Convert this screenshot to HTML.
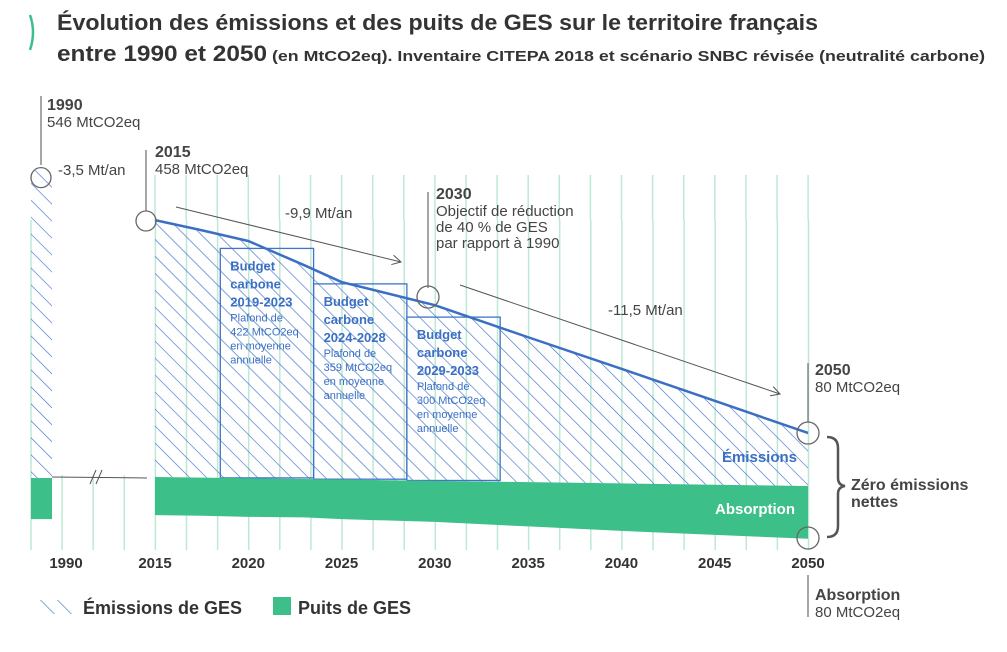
<!DOCTYPE html>
<html><head><meta charset="utf-8"><style>
html,body{margin:0;padding:0;background:#fff;}
svg{display:block;font-family:"Liberation Sans",sans-serif;}
</style></head><body>
<svg id="chart" width="1007" height="652" viewBox="0 0 1007 652">
<defs>
<pattern id="hatch" patternUnits="userSpaceOnUse" width="12" height="12" patternTransform="rotate(-45)">
<line x1="0" y1="0" x2="0" y2="12" stroke="#3f74c8" stroke-width="1.3"/>
</pattern>
</defs>
<path d="M30 15 Q36 32 30 50" fill="none" stroke="#3dbf8a" stroke-width="2.5"/>
<text x="57" y="30" font-size="22" font-weight="bold" fill="#333" textLength="761" lengthAdjust="spacingAndGlyphs">Évolution des émissions et des puits de GES sur le territoire français</text>
<text x="57" y="61" font-weight="bold" fill="#333"><tspan font-size="22" textLength="210" lengthAdjust="spacingAndGlyphs">entre 1990 et 2050</tspan><tspan font-size="14.5" dx="5" textLength="713" lengthAdjust="spacingAndGlyphs">(en MtCO2eq). Inventaire CITEPA 2018 et scénario SNBC révisée (neutralité carbone)</tspan></text>
<g id="grid"></g>
<g id="marks"></g>
<g id="annot"></g>
<g id="axis"></g>
<g>
<g>
<rect x="40" y="600" width="33" height="14" fill="url(#hatch)"/>
<text x="83" y="614" font-size="18" font-weight="bold" fill="#333">Émissions de GES</text>
</g>
<g>
<rect x="273" y="597" width="18" height="18" fill="#3dbf8a"/>
<text x="298" y="614" font-size="18" font-weight="bold" fill="#333">Puits de GES</text>
</g>
</g>
</svg>
<script>
const years = [2015, 2017.5, 2020, 2023, 2025, 2030, 2035, 2040, 2045, 2050];
const emissions = [458, 440, 421, 378, 348, 307, 250, 194, 137, 80];
const absorption = [66, 67, 69, 70, 73, 78, 86, 94, 101, 108];
const emission1990 = 546;
const absorption1990 = 73;
const tickYears = [2015, 2020, 2025, 2030, 2035, 2040, 2045, 2050];
const budgetStart = [2018.5, 2023.5, 2028.5];
const budgetEnd = [2023.5, 2028.5, 2033.5];
const budgetValues = [422, 359, 300];
const budgetLabels = ["2019-2023", "2024-2028", "2029-2033"];

const NS = "http://www.w3.org/2000/svg";
const x = yr => 155 + (yr - 2015) * (808 - 155) / 35;
const y = v => 478 - v * 0.563;
const base = yr => 477 + (yr - 2015) * 9 / 35;
function mk(tag, attrs, parent, txt) {
  const e = document.createElementNS(NS, tag);
  for (const k in attrs) e.setAttribute(k, attrs[k]);
  if (txt !== undefined) e.textContent = txt;
  parent.appendChild(e);
  return e;
}
const grid = document.getElementById('grid');
const marks = document.getElementById('marks');
const annot = document.getElementById('annot');
const axis = document.getElementById('axis');

for (let gx = 31; gx <= 810; gx += 31.1) {
  const l = mk('line', {x1: gx, x2: gx, y1: 175, y2: 550, stroke: '#bfe8d4', 'stroke-width': 1.5}, grid);
  
  
}
const wipe = mk('rect', {x: 0, y: 100, width: 1007, height: 120, fill: '#fff'}, grid);


mk('rect', {x: 53, y: 175, width: 99, height: 300, fill: '#fff'}, grid);
for (let gx = 155; gx <= 810; gx += 31.1) {
  mk('line', {x1: gx, x2: gx, y1: 175, y2: 220, stroke: '#bfe8d4', 'stroke-width': 1.5}, grid);
}

const c90 = mk('rect', {x: 31, y: y(emission1990), width: 21, height: 478 - y(emission1990), fill: 'url(#hatch)'}, marks);


const a90 = mk('rect', {x: 31, y: 478, width: 21, height: absorption1990 * 0.563, fill: '#3dbf8a'}, marks);



let d = `M${x(years[0])} ${base(years[0])}`;
years.forEach((yr, i) => d += ` L${x(yr)} ${y(emissions[i])}`);
d += ` L${x(2050)} ${base(2050)} Z`;
const ea = mk('path', {d: d, fill: 'url(#hatch)'}, marks);



budgetValues.forEach((v, i) => {
  const bx = x(budgetStart[i]), bw = x(budgetEnd[i]) - x(budgetStart[i]);
  const r = mk('rect', {x: bx, y: y(v) + 8, width: bw, height: base(budgetStart[i]) - y(v) - 8, fill: 'none', stroke: '#3f74c8', 'stroke-width': 1.3}, marks);
  
  
  const t = mk('text', {x: bx + 10, y: y(v) + 30, fill: '#3a6fc4', 'font-size': 12.5, 'font-weight': 'bold'}, marks);
  
  
  const lines = [['Budget', 1], ['carbone', 1], [budgetLabels[i], 1], ['Plafond de', 0], [v + ' MtCO2eq', 0], ['en moyenne', 0], ['annuelle', 0]];
  lines.forEach((ln, j) => {
    mk('tspan', {x: bx + 10, dy: j === 0 ? 0 : (j < 3 ? 18 : (j === 3 ? 15 : 14)), 'font-size': ln[1] ? 13 : 11, 'font-weight': ln[1] ? 'bold' : 'normal'}, t, ln[0]);
  });
});

let ld = '';
years.forEach((yr, i) => ld += (i ? ' L' : 'M') + x(yr) + ' ' + y(emissions[i]));
const el = mk('path', {d: ld, fill: 'none', stroke: '#3a6fc4', 'stroke-width': 2.5, 'stroke-linejoin': 'round'}, marks);



let ad = `M${x(years[0])} ${base(years[0])}`;
years.forEach(yr => ad += ` L${x(yr)} ${base(yr)}`);
for (let i = years.length - 1; i >= 0; i--) ad += ` L${x(years[i])} ${478 + absorption[i] * 0.563}`;
ad += ' Z';
const ab = mk('path', {d: ad, fill: '#3dbf8a'}, marks);



mk('line', {x1: 52, y1: 477, x2: 147, y2: 478, stroke: '#555', 'stroke-width': 1}, annot);
mk('line', {x1: 90, y1: 484, x2: 96, y2: 470, stroke: '#555', 'stroke-width': 1}, annot);
mk('line', {x1: 96, y1: 484, x2: 102, y2: 470, stroke: '#555', 'stroke-width': 1}, annot);

function marker(cx, cy, r) {
  const c = mk('circle', {cx: cx, cy: cy, r: r, fill: 'none', stroke: '#666', 'stroke-width': 1.3}, annot);
  
  
}
function stem(sx, y1, y2) { mk('line', {x1: sx, x2: sx, y1: y1, y2: y2, stroke: '#777', 'stroke-width': 1.3}, annot); }
function label(tx, ty, lines, name) {
  const t = mk('text', {x: tx, y: ty, fill: '#444'}, annot);
  
  
  lines.forEach((ln, j) => mk('tspan', {x: tx, dy: j ? (ln[2] || 17) : 0, 'font-size': ln[1] ? 16 : 15, 'font-weight': ln[1] ? 'bold' : 'normal'}, t, ln[0]));
}
stem(41, 96, 165); marker(41, y(emission1990) + 7, 10);
label(47, 110, [['1990', 1], ['546 MtCO2eq', 0]], 'label-1990');
label(58, 175, [['-3,5 Mt/an', 0]], 'rate-1990');
stem(146, 150, 211); marker(146, 221, 10);
label(155, 157, [['2015', 1], ['458 MtCO2eq', 0]], 'label-2015');
stem(428, 192, 288); marker(428, 297, 11);
label(436, 199, [['2030', 1], ['Objectif de réduction', 0], ['de 40 % de GES', 0, 16], ['par rapport à 1990', 0, 16]], 'label-2030');
stem(808, 363, 422); marker(808, 433, 11);
label(815, 375, [['2050', 1], ['80 MtCO2eq', 0]], 'label-2050');
marker(808, 538, 11);
stem(808, 575, 617);
label(815, 600, [['Absorption', 1], ['80 MtCO2eq', 0]], 'label-absorption-2050');
label(285, 218, [['-9,9 Mt/an', 0]], 'rate-2015-2030');
label(608, 315, [['-11,5 Mt/an', 0]], 'rate-2030-2050');
function arrow(x1, y1, x2, y2) {
  mk('line', {x1: x1, y1: y1, x2: x2, y2: y2, stroke: '#555', 'stroke-width': 1}, annot);
  const a = Math.atan2(y2 - y1, x2 - x1);
  mk('path', {d: `M${x2 - 10 * Math.cos(a - 0.5)} ${y2 - 10 * Math.sin(a - 0.5)} L${x2} ${y2} L${x2 - 10 * Math.cos(a + 0.5)} ${y2 - 10 * Math.sin(a + 0.5)}`, fill: 'none', stroke: '#555', 'stroke-width': 1}, annot);
}
arrow(176, 207, 401, 262);
arrow(460, 285, 780, 394);
const te = mk('text', {x: 797, y: 462, 'font-size': 15, 'font-weight': 'bold', fill: '#3a6fc4', 'text-anchor': 'end'}, annot, 'Émissions');


const ta = mk('text', {x: 795, y: 514, 'font-size': 15, 'font-weight': 'bold', fill: '#fff', 'text-anchor': 'end'}, annot, 'Absorption');


mk('path', {d: 'M827 437 Q838 437 838 448 L838 478 Q838 485 845 486 Q838 487 838 494 L838 526 Q838 537 827 537', fill: 'none', stroke: '#555', 'stroke-width': 2.5}, annot);
label(851, 490, [['Zéro émissions', 1], ['nettes', 1, 17]], 'net-zero-label');

const t90 = mk('text', {x: 66, y: 568, 'font-size': 15, 'font-weight': 'bold', fill: '#333', 'text-anchor': 'middle'}, axis, '1990');


tickYears.forEach(yr => {
  const t = mk('text', {x: x(yr), y: 568, 'font-size': 15, 'font-weight': 'bold', fill: '#333', 'text-anchor': 'middle'}, axis, String(yr));
  
  
});
</script>
</body></html>
